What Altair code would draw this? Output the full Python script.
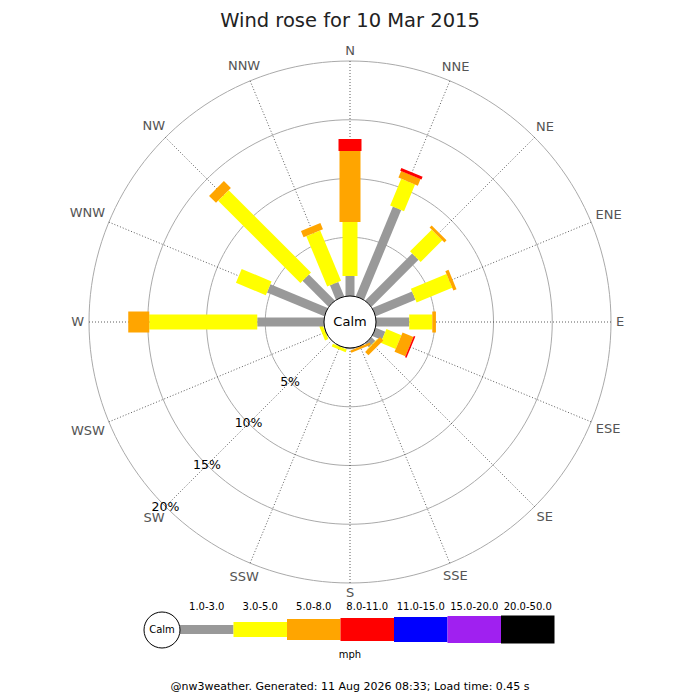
"""Wind rose for a single day, drawn as radial stacked bars."""

import altair as alt
import numpy as np
import pandas as pd

DIRECTIONS = ["N", "NNE", "NE", "ENE", "E", "ESE", "SE", "SSE",
              "S", "SSW", "SW", "WSW", "W", "WNW", "NW", "NNW"]
SPEED_CLASSES = ["1.0-3.0", "3.0-5.0", "5.0-8.0", "8.0-11.0",
                 "11.0-15.0", "15.0-20.0", "20.0-50.0"]

# % of the day from each direction, one list per speed band (mph)
PCT_1_3 = [1.70, 8.26, 5.65, 3.66, 2.83, 0.88, 0.45, 0.05,
           0.10, 0.05, 0.00, 0.05, 5.68, 5.28, 3.12, 1.32]
PCT_3_5 = [4.60, 2.46, 2.61, 3.28, 1.96, 1.38, 0.05, 0.00,
           0.00, 0.25, 0.00, 0.30, 9.19, 2.75, 9.90, 4.64]
PCT_5_8 = [6.04, 0.60, 0.25, 0.29, 0.31, 1.00, 0.40, 0.20,
           0.00, 0.00, 0.00, 0.00, 1.79, 0.00, 0.84, 0.57]
PCT_8_11 = [1.02, 0.25, 0.00, 0.00, 0.00, 0.14, 0.00, 0.00,
            0.00, 0.00, 0.00, 0.00, 0.00, 0.00, 0.00, 0.00]
PCT_11_15 = [0.0] * 16
PCT_15_20 = [0.0] * 16
PCT_20_50 = [0.0] * 16
CALM_PCT = 3.85

RING_PCTS = [5, 10, 15, 20]

TITLE = "Wind rose for 10 Mar 2015"
FOOTER = "@nw3weather. Generated: 11 Aug 2026 08:33; Load time: 0.45 s"

# styling
COLOURS = ["#999999", "#ffff00", "#ffa500", "#ff0000", "#0000ff", "#a020f0", "#000000"]
BAR_WIDTHS = [9, 15, 21, 23, 25, 27, 28]
FONT = "DejaVu Sans"
DIR_FONT = 13
GLYPH_EM = {"N": 0.748, "E": 0.632, "S": 0.635, "W": 0.989}  # DejaVu Sans advance widths

W, H = 684, 684
CX, CY = 342, 314          # rose centre, px
PX = 11.75                 # px per percent
R0 = 26 / PX               # calm circle radius, in percent units
LABEL_GAP = 266            # px from centre to the near edge of a compass label
LEG_X, LEG_Y, LEG_STEP = 172, 621.5, 53.5

xs = alt.Scale(domain=[-CX / PX, (W - CX) / PX], nice=False, zero=False)
ys = alt.Scale(domain=[-(H - CY) / PX, CY / PX], nice=False, zero=False)


def X(field):
    return alt.X(f"{field}:Q", scale=xs, axis=None)


def Y(field):
    return alt.Y(f"{field}:Q", scale=ys, axis=None)


def polar(r, deg):
    """Return x, y (percent units) for radius r at compass bearing deg."""
    a = np.radians(deg)
    return r * np.sin(a), r * np.cos(a)


def unit_x(px):
    return (px - CX) / PX


def unit_y(px):
    return (CY - px) / PX


# stacked bar segments
series = [PCT_1_3, PCT_3_5, PCT_5_8, PCT_8_11, PCT_11_15, PCT_15_20, PCT_20_50]
rows = []
for i, d in enumerate(DIRECTIONS):
    deg = i * 22.5
    cum = 0.0
    for k, vals in enumerate(series):
        pct = vals[i]
        if pct > 0:
            x0, y0 = polar(R0 + cum, deg)
            x1, y1 = polar(R0 + cum + pct, deg)
            rows.append({"dir": d, "cls": SPEED_CLASSES[k], "pct": pct, "w": BAR_WIDTHS[k],
                         "x0": x0, "y0": y0, "x1": x1, "y1": y1})
        cum += pct
bars_df = pd.DataFrame(rows)

colour = alt.Color("cls:N", scale=alt.Scale(domain=SPEED_CLASSES, range=COLOURS), legend=None)

bars = (
    alt.Chart(bars_df)
    .mark_rule(strokeCap="butt")
    .encode(
        x=X("x0"), y=Y("y0"),
        x2=alt.X2("x1"), y2=alt.Y2("y1"),
        color=colour,
        strokeWidth=alt.StrokeWidth("w:Q", scale=None),
        tooltip=["dir:N", "cls:N", alt.Tooltip("pct:Q", format=".2f")],
    )
)

# grid rings
ring_rows = []
for p in RING_PCTS:
    for a in range(0, 362, 2):
        x, y = polar(R0 + p, a)
        ring_rows.append({"ring": p, "deg": a, "x": x, "y": y})
rings = (
    alt.Chart(pd.DataFrame(ring_rows))
    .mark_line(color="#aaaaaa", strokeWidth=1)
    .encode(x=X("x"), y=Y("y"), detail="ring:N", order="deg:Q")
)

# direction spokes and labels (labels pushed out so their box clears the outer ring)
degs = np.arange(16) * 22.5
sx0, sy0 = polar(R0, degs)
sx1, sy1 = polar(R0 + max(RING_PCTS), degs)
half_w = np.array([sum(GLYPH_EM[c] for c in d) * DIR_FONT / 2 for d in DIRECTIONS])
rad = np.radians(degs)
label_r = LABEL_GAP + half_w * np.abs(np.sin(rad)) + 5 * np.abs(np.cos(rad))
lx, ly = polar(label_r / PX, degs)
dir_df = pd.DataFrame({"dir": DIRECTIONS, "x0": sx0, "y0": sy0, "x1": sx1, "y1": sy1,
                       "lx": lx, "ly": ly})
spokes = (
    alt.Chart(dir_df)
    .mark_rule(color="#333333", strokeWidth=0.8, strokeDash=[1, 2])
    .encode(x=X("x0"), y=Y("y0"), x2=alt.X2("x1"), y2=alt.Y2("y1"))
)
dir_labels = (
    alt.Chart(dir_df)
    .mark_text(font=FONT, fontSize=DIR_FONT, color="#555555", baseline="middle")
    .encode(x=X("lx"), y=Y("ly"), text="dir:N")
)

px_, py_ = polar(R0 + np.array(RING_PCTS, dtype=float), 225.0)
pct_df = pd.DataFrame({"label": [f"{p}%" for p in RING_PCTS], "x": px_, "y": py_})
pct_labels = (
    alt.Chart(pct_df)
    .mark_text(font=FONT, fontSize=12.5, color="#000000", baseline="middle")
    .encode(x=X("x"), y=Y("y"), text="label:N")
)

# calm circle in the middle
calm_df = pd.DataFrame({"calm": [CALM_PCT], "label": ["Calm"], "x": [0.0], "y": [0.0]})
calm_circle = (
    alt.Chart(calm_df)
    .mark_point(shape="circle", filled=True, fill="white", stroke="black",
                strokeWidth=1, opacity=1, size=(2 * R0 * PX) ** 2)
    .encode(x=X("x"), y=Y("y"), tooltip=[alt.Tooltip("calm:Q", title="Calm %")])
)
calm_text = (
    alt.Chart(calm_df)
    .mark_text(font=FONT, fontSize=13, color="#000000", baseline="middle")
    .encode(x=X("x"), y=Y("y"), text="label:N")
)

# speed legend along the bottom
ks = np.arange(len(SPEED_CLASSES))
widths = np.array(BAR_WIDTHS, dtype=float)
leg_df = pd.DataFrame({
    "cls": SPEED_CLASSES,
    "x0": unit_x(LEG_X + ks * LEG_STEP),
    "x1": unit_x(LEG_X + (ks + 1) * LEG_STEP),
    "xm": unit_x(LEG_X + (ks + 0.5) * LEG_STEP),
    "y0": unit_y(LEG_Y - widths / 2),
    "y1": unit_y(LEG_Y + widths / 2),
    "yt": unit_y(599),
})
leg_rects = alt.Chart(leg_df).mark_rect().encode(
    x=X("x0"), x2=alt.X2("x1"), y=Y("y0"), y2=alt.Y2("y1"), color=colour,
)
leg_text = alt.Chart(leg_df).mark_text(font=FONT, fontSize=10, color="#000000", baseline="middle").encode(
    x=X("xm"), y=Y("yt"), text="cls:N"
)
leg_calm_df = pd.DataFrame({"label": ["Calm"], "x": [unit_x(154)], "y": [unit_y(622)]})
leg_calm = (
    alt.Chart(leg_calm_df)
    .mark_point(shape="circle", filled=True, fill="white", stroke="black",
                strokeWidth=1, opacity=1, size=36 ** 2)
    .encode(x=X("x"), y=Y("y"))
)
leg_calm_text = (
    alt.Chart(leg_calm_df)
    .mark_text(font=FONT, fontSize=10, color="#000000", baseline="middle")
    .encode(x=X("x"), y=Y("y"), text="label:N")
)


def caption(text, px_y, size, colour="#000000"):
    df = pd.DataFrame({"t": [text], "x": [unit_x(CX)], "y": [unit_y(px_y)]})
    return (
        alt.Chart(df)
        .mark_text(font=FONT, fontSize=size, color=colour, baseline="alphabetic")
        .encode(x=X("x"), y=Y("y"), text="t:N")
    )


chart = (
    alt.layer(
        rings, spokes, bars, calm_circle, calm_text, dir_labels, pct_labels,
        leg_rects, leg_text, leg_calm, leg_calm_text,
        caption(TITLE, 18.5, 19.5, "#222222"),
        caption("mph", 650, 10),
        caption(FOOTER, 682, 11),
    )
    .properties(width=W, height=H, padding=0, autosize="none")
    .configure_view(strokeWidth=0)
)

chart.save("out.html", embed_options={"renderer": "svg", "actions": False})
